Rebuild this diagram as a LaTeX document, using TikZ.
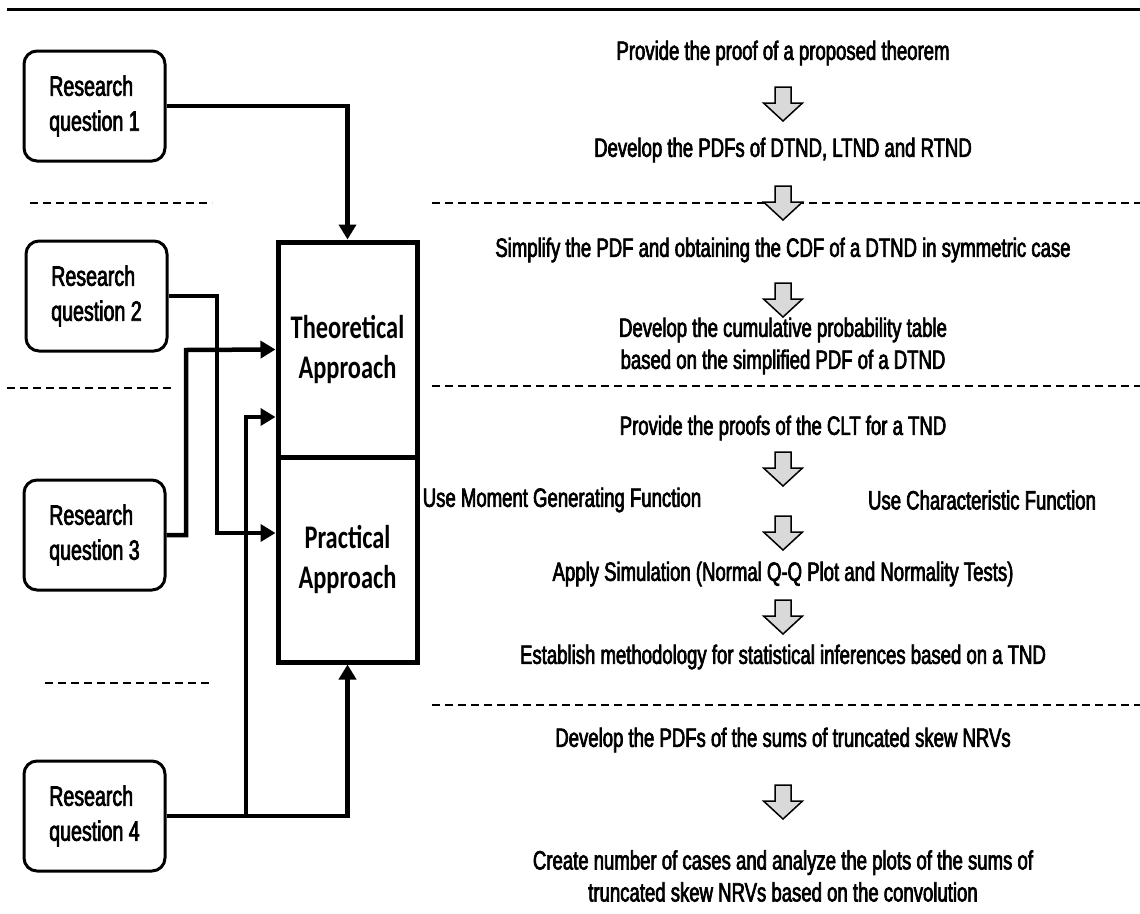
\documentclass[tikz,border=0pt]{standalone}
\usepackage{fontspec}
\setmainfont{Liberation Sans}
\newfontfamily\narrowfont{Liberation Sans}[FakeStretch=0.70,FakeBold=2.5]
\newfontfamily\calibfont{Carlito}[FakeStretch=0.74]
\usetikzlibrary{arrows.meta}
\definecolor{arrowgray}{HTML}{D9D9D9}
\begin{document}
\begin{tikzpicture}[x=1pt,y=-1pt,
  rqbox/.style={draw,line width=3pt,rounded corners=13pt,minimum width=141pt,minimum height=110pt,align=left,font=\narrowfont\fontsize{28}{35}\selectfont,inner sep=0pt},
  appbox/.style={draw,line width=5pt,minimum width=139pt,align=center,font=\calibfont\bfseries\fontsize{33}{40}\selectfont,inner sep=0pt},
  steptext/.style={align=center,font=\narrowfont\fontsize{26.5}{32}\selectfont,inner sep=0pt},
  conn/.style={line width=4.5pt,-{Triangle[length=15pt,width=17pt]}},
  sep/.style={line width=2.5pt,dash pattern=on 8pt off 5pt},
  barrow/.pic={\draw[fill=arrowgray,line width=1.5pt,line join=miter] (-8,0) -- (8,0) -- (8,16) -- (19.5,16) -- (0,34) -- (-19.5,16) -- (-8,16) -- cycle;}
]
\useasboundingbox (0,0) rectangle (1140,913);
% top rule
\draw[line width=3pt] (7,9) -- (1140,9);

% separators
\draw[sep] (30,203) -- (212,203);
\draw[sep] (7,388) -- (175,388);
\draw[sep] (45,683) -- (213,683);
\draw[sep] (432,203) -- (1140,203);
\draw[sep] (432,386) -- (1140,386);
\draw[sep] (432,705) -- (1140,705);

% research question boxes
\node[rqbox] (rq1) at (94.5,106) {Research\\question 1};
\node[rqbox] (rq2) at (96.5,296) {Research\\question 2};
\node[rqbox] (rq3) at (94.5,535) {Research\\question 3};
\node[rqbox] (rq4) at (94.5,816) {Research\\question 4};

% approach boxes
\node[appbox,minimum height=215pt] (theo) at (347.5,349.5) {Theoretical\\Approach};
\node[appbox,minimum height=205pt] (prac) at (347.5,559.5) {Practical\\Approach};

% connectors
\coordinate (c2) at (217,533);
\coordinate (c3) at (186,350);
\coordinate (c4) at (246,417);
\draw[conn] (rq1.east) -| (theo.north);
\draw[conn] (rq2.east) -| (c2) -- (c2 -| prac.west);
\draw[conn] (rq3.east) -| (c3) -- (theo.west);
\draw[conn] (rq4.east) -| (prac.south);
\draw[conn] (c4 |- rq4.east) -- (c4) -- (c4 -| theo.west);

% right column
\node[steptext] (t1) at (783,53) {Provide the proof of a proposed theorem};
\node[steptext] (t2) at (783,150) {Develop the PDFs of DTND, LTND and RTND};
\node[steptext] (t3) at (783,250) {Simplify the PDF and obtaining the CDF of a DTND in symmetric case};
\node[steptext] (t4) at (783,346) {Develop the cumulative probability table\\based on the simplified PDF of a DTND};
\node[steptext] (t5) at (783,428) {Provide the proofs of the CLT for a TND};
\node[steptext] (t6a) at (562,500) {Use Moment Generating Function};
\node[steptext] (t6b) at (982,500) {Use Characteristic Function};
\node[steptext] (t7) at (783,574) {Apply Simulation (Normal Q-Q Plot and Normality Tests)};
\node[steptext] (t8) at (783,657) {Establish methodology for statistical inferences based on a TND};
\node[steptext] (t9) at (783,740) {Develop the PDFs of the sums of truncated skew NRVs};
\node[steptext] (t10) at (783,876) {Create number of cases and analyze the plots of the sums of\\truncated skew NRVs based on the convolution};

% block arrows
\pic at (783,87) {barrow};
\pic at (783,186) {barrow};
\pic at (783,283) {barrow};
\pic at (783,452) {barrow};
\pic at (783,516) {barrow};
\pic at (783,600) {barrow};
\pic at (783,785) {barrow};
\end{tikzpicture}
\end{document}
